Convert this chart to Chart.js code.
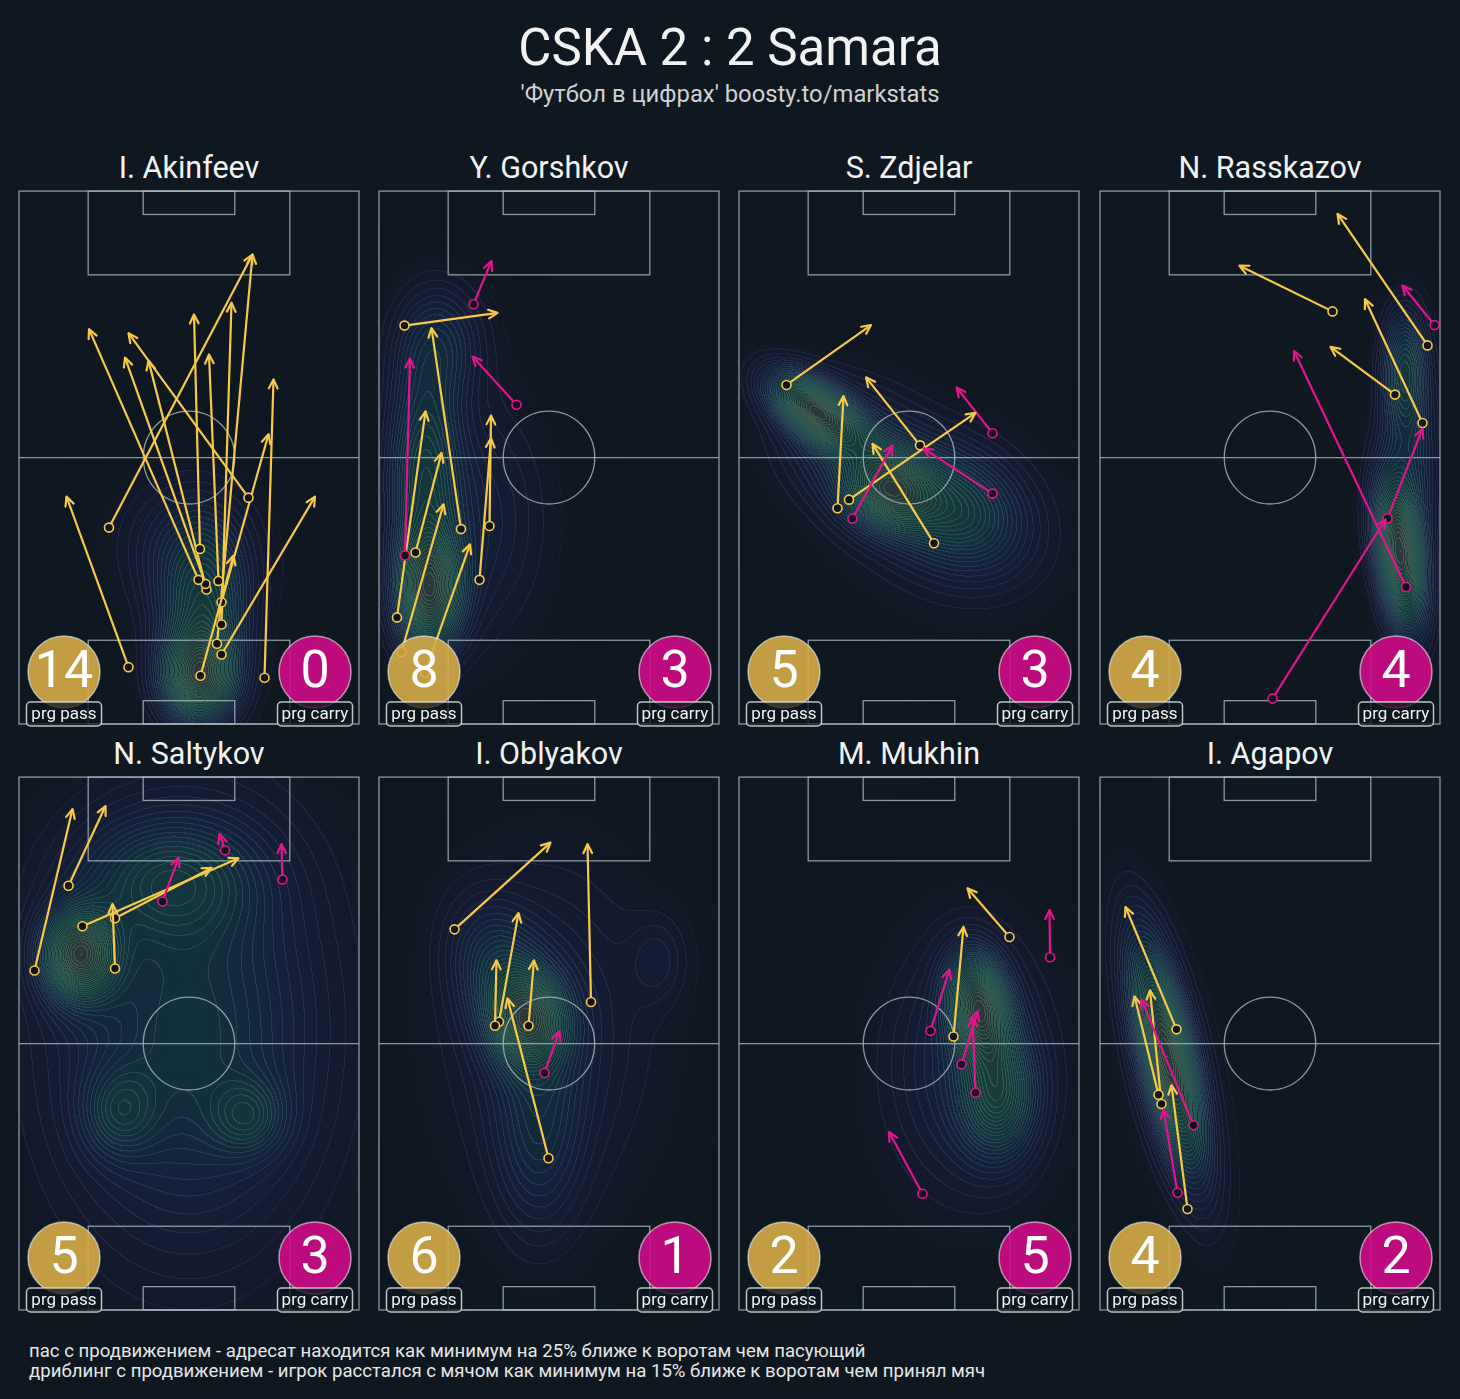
<!DOCTYPE html>
<html>
<head>
<meta charset="utf-8">
<script src="https://cdn.jsdelivr.net/npm/chart.js@4.4.1/dist/chart.umd.min.js"></script>
<style>
  body { margin: 0; background: #0f1820; width: 1460px; height: 1399px; overflow: hidden;
         font-family: Roboto, "Noto Sans", sans-serif; color: #f2f2f2; position: relative; }
  .t { position: absolute; left: 0; width: 1460px; text-align: center; white-space: nowrap; }
  #title { top: 20px; font-size: 51px; line-height: 56px; }
  #sub { top: 80px; font-size: 23.8px; line-height: 28px; color: #d0d0d0; }
  .name { position: absolute; width: 340px; text-align: center; font-size: 30.5px; line-height: 36px; white-space: nowrap; }
  canvas { position: absolute; }
  #foot { position: absolute; left: 29px; top: 1341px; font-size: 18.6px; line-height: 20px; color: #e6e6e6; white-space: nowrap; }
</style>
</head>
<body>
<div class="t" id="title">CSKA 2 : 2 Samara</div>
<div class="t" id="sub">'Футбол в цифрах' boosty.to/markstats</div>
<div id="foot">пас с продвижением - адресат находится как минимум на 25% ближе к воротам чем пасующий<br>дриблинг с продвижением - игрок расстался с мячом как минимум на 15% ближе к воротам чем принял мяч</div>

<script>
// pitch is 68 x 105, attacking upwards; arrows are [x0, y0, x1, y1] in metres
const players = ['I. Akinfeev', 'Y. Gorshkov', 'S. Zdjelar', 'N. Rasskazov',
                 'N. Saltykov', 'I. Oblyakov', 'M. Mukhin', 'I. Agapov'];

const passAkinfeev = [
  [21.9, 11.2, 9.5, 44.8], [18.0, 38.7, 46.7, 92.5], [45.9, 44.6, 21.9, 77.0],
  [49.1, 9.1, 50.9, 67.9], [40.5, 13.7, 59.2, 44.8], [36.3, 9.5, 42.9, 33.2],
  [36.2, 34.5, 35.0, 80.7], [35.9, 28.4, 14.0, 77.8], [37.3, 27.6, 21.2, 72.2],
  [37.5, 26.5, 25.9, 71.6], [39.9, 28.2, 38.0, 72.8], [40.5, 24.0, 49.9, 57.1],
  [40.5, 19.6, 42.5, 83.0], [39.6, 15.8, 46.7, 92.5]
];
const carryAkinfeev = [];

const passGorshkov = [
  [5.1, 78.5, 23.7, 81.0], [16.4, 38.4, 10.5, 78.0], [3.6, 21.0, 9.3, 61.6],
  [7.3, 33.8, 12.5, 53.4], [4.5, 14.2, 12.9, 43.3], [9.2, 10.1, 18.2, 35.4],
  [22.1, 39.0, 22.4, 60.8], [20.1, 28.4, 22.4, 56.3]
];
const carryGorshkov = [
  [5.2, 33.2, 6.2, 72.0], [18.9, 82.7, 22.5, 91.2], [27.5, 62.9, 18.7, 72.4]
];

const passZdjelar = [
  [9.5, 66.8, 26.4, 78.6], [19.7, 42.5, 20.9, 64.6], [22.0, 44.2, 47.3, 61.3],
  [36.2, 54.9, 25.4, 68.3], [39.0, 35.6, 26.7, 55.2]
];
const carryZdjelar = [
  [22.7, 40.5, 30.7, 54.9], [50.7, 57.3, 43.5, 66.3], [50.7, 45.4, 36.9, 54.3]
];

const passRasskazov = [
  [46.5, 81.3, 27.9, 90.3], [65.5, 74.6, 47.5, 100.5], [59.0, 64.9, 46.1, 74.3],
  [64.5, 59.3, 53.0, 83.7]
];
const carryRasskazov = [
  [66.9, 78.6, 60.5, 86.4], [61.2, 27.0, 38.8, 73.5], [34.5, 5.0, 57.1, 40.3],
  [57.5, 40.5, 64.5, 58.2]
];

const passSaltykov = [
  [3.1, 66.9, 10.7, 98.7], [9.9, 83.6, 17.3, 99.3], [12.7, 75.6, 43.9, 89.0],
  [19.2, 67.3, 18.7, 80.0], [19.2, 77.2, 38.5, 87.1]
];
const carrySaltykov = [
  [28.7, 80.5, 31.9, 89.1], [41.2, 90.6, 40.1, 93.8], [52.7, 84.8, 52.5, 91.8]
];

const passOblyakov = [
  [15.1, 75.0, 34.3, 92.1], [42.4, 60.7, 41.7, 91.8], [23.2, 56.0, 23.5, 68.9],
  [24.0, 56.8, 27.9, 78.2], [29.9, 56.0, 31.0, 68.9], [33.9, 29.9, 25.7, 61.4]
];
const carryOblyakov = [
  [33.1, 46.7, 36.1, 54.9]
];

const passMukhin = [
  [54.1, 73.5, 45.7, 83.1], [42.9, 53.9, 44.9, 75.5]
];
const carryMukhin = [
  [62.2, 69.5, 62.1, 78.8], [38.3, 55.0, 42.1, 67.1], [44.5, 48.4, 47.7, 58.8],
  [47.3, 42.8, 46.7, 57.7], [36.7, 22.9, 30.0, 35.1]
];

const passAgapov = [
  [15.3, 55.3, 5.1, 79.4], [11.7, 42.4, 6.9, 61.8], [12.3, 40.6, 10.0, 63.0],
  [17.5, 19.9, 14.3, 44.3]
];
const carryAgapov = [
  [18.7, 36.4, 8.3, 61.2], [15.5, 23.1, 12.7, 39.5]
];

// rough touch-density blobs: [x, y, spreadX, spreadY, angleDeg, weight]
const heatAkinfeev = [[36, 9, 5, 6, 0, 1], [37, 22, 6, 10, 0, 0.6], [34, 35, 9, 9, 0, 0.25]];
const heatGorshkov = [[10, 26, 4.5, 8, 0, 1], [9, 50, 5, 14, 0, 0.55], [12, 75, 6, 8, 0, 0.3], [20, 40, 9, 16, 0, 0.2]];
const heatZdjelar = [[15, 62, 7, 3.5, -35, 1], [30, 46, 6, 5, -20, 0.75], [44, 42, 9, 7, -30, 0.45], [22, 55, 10, 8, -30, 0.3], [40, 42, 15, 11, -30, 0.2]];
const heatRasskazov = [[60, 33, 3.2, 10, 8, 1], [61, 70, 3, 8, 0, 0.5], [62, 50, 4, 12, 0, 0.3]];
const heatSaltykov = [[12, 70, 5, 6, 0, 1], [20, 39, 5, 6, 0, 0.3], [46, 38, 5, 5, 0, 0.3], [30, 85, 12, 8, 0, 0.4], [34, 55, 18, 28, 0, 0.5]];
const heatOblyakov = [[30, 57, 5, 6, 0, 1], [25, 65, 6, 10, 20, 0.6], [56, 69, 4, 6, 0, 0.18], [32, 35, 6, 14, 0, 0.4], [34, 55, 14, 22, 0, 0.3]];
const heatMukhin = [[48, 60, 4, 7, 10, 1], [52, 42, 5, 8, 0, 0.6], [46, 48, 11, 17, 0, 0.3]];
const heatAgapov = [[13.5, 50, 3.5, 15, 13, 1], [14, 48, 6, 20, 13, 0.15]];

const passes = [passAkinfeev, passGorshkov, passZdjelar, passRasskazov, passSaltykov, passOblyakov, passMukhin, passAgapov];
const carries = [carryAkinfeev, carryGorshkov, carryZdjelar, carryRasskazov, carrySaltykov, carryOblyakov, carryMukhin, carryAgapov];
const heats = [heatAkinfeev, heatGorshkov, heatZdjelar, heatRasskazov, heatSaltykov, heatOblyakov, heatMukhin, heatAgapov];

const panelLeft = [19, 379, 739, 1100];
const panelTop = [191, 777];
const PASS = '#f7c948';
const CARRY = '#e2148e';
const LINE = 'rgba(168,186,190,0.8)';

const stops = [
  [0.00, 30, 20, 70, 0],
  [0.06, 45, 30, 110, 0.16],
  [0.22, 35, 60, 130, 0.27],
  [0.42, 25, 100, 120, 0.33],
  [0.65, 35, 125, 105, 0.36],
  [0.85, 60, 120, 100, 0.36],
  [1.00, 85, 105, 100, 0.4]
];
function cmap(t) {
  for (let k = 1; k < stops.length; k++) {
    if (t <= stops[k][0]) {
      const a = stops[k - 1], b = stops[k], f = (t - a[0]) / (b[0] - a[0]);
      return [1, 2, 3, 4].map(n => a[n] + (b[n] - a[n]) * f);
    }
  }
  return stops[stops.length - 1].slice(1);
}

function drawHeat(chart, blobs) {
  const a = chart.chartArea, xs = chart.scales.x, ys = chart.scales.y;
  const W = Math.round(a.right - a.left), H = Math.round(a.bottom - a.top);
  const dens = new Float32Array(W * H);
  const pre = blobs.map(b => {
    const r = b[4] * Math.PI / 180;
    return [b[0], b[1], b[2], b[3], Math.cos(r), Math.sin(r), b[5]];
  });
  let max = 0;
  for (let j = 0; j < H; j++) {
    const my = ys.getValueForPixel(a.top + j + 0.5);
    for (let i = 0; i < W; i++) {
      const mx = xs.getValueForPixel(a.left + i + 0.5);
      let d = 0;
      for (const p of pre) {
        const dx = mx - p[0], dy = my - p[1];
        const u = dx * p[4] + dy * p[5], v = -dx * p[5] + dy * p[4];
        d += p[6] * Math.exp(-0.5 * (u * u / (p[2] * p[2]) + v * v / (p[3] * p[3])));
      }
      dens[j * W + i] = d;
      if (d > max) max = d;
    }
  }
  const off = document.createElement('canvas');
  off.width = W; off.height = H;
  const octx = off.getContext('2d');
  const img = octx.createImageData(W, H);
  const N = 34;
  for (let k = 0; k < W * H; k++) {
    const t = dens[k] / max;
    const c = cmap(t);
    const lvl = Math.floor(t * N);
    const i = k % W, j = (k - i) / W;
    let edge = false;
    if (t > 0.03) {
      if (i + 1 < W && Math.floor(dens[k + 1] / max * N) !== lvl) edge = true;
      if (j + 1 < H && Math.floor(dens[k + W] / max * N) !== lvl) edge = true;
    }
    if (edge) {
      c[0] = Math.min(255, c[0] + 45); c[1] = Math.min(255, c[1] + 50); c[2] = Math.min(255, c[2] + 40);
      c[3] = Math.min(1, c[3] + 0.08);
    }
    img.data[k * 4] = c[0]; img.data[k * 4 + 1] = c[1]; img.data[k * 4 + 2] = c[2];
    img.data[k * 4 + 3] = c[3] * 255;
  }
  octx.putImageData(img, 0, 0);
  chart.ctx.drawImage(off, a.left, a.top);
}

function drawPitch(chart) {
  const ctx = chart.ctx, xs = chart.scales.x, ys = chart.scales.y;
  const px = v => xs.getPixelForValue(v), py = v => ys.getPixelForValue(v);
  const rect = (x0, y0, x1, y1) => ctx.strokeRect(px(x0), py(y1), px(x1) - px(x0), py(y0) - py(y1));
  ctx.save();
  ctx.strokeStyle = LINE;
  ctx.lineWidth = 1.3;
  rect(0, 0, 68, 105);
  ctx.beginPath(); ctx.moveTo(px(0), py(52.5)); ctx.lineTo(px(68), py(52.5)); ctx.stroke();
  ctx.beginPath();
  ctx.ellipse(px(34), py(52.5), px(9.15) - px(0), py(0) - py(9.15), 0, 0, Math.PI * 2);
  ctx.stroke();
  rect(13.84, 0, 54.16, 16.5);
  rect(13.84, 88.5, 54.16, 105);
  rect(24.84, 0, 43.16, 4.6);
  rect(24.84, 100.4, 43.16, 105);
  ctx.restore();
}

function drawBadge(ctx, cx, cy, fill, num, label) {
  ctx.save();
  ctx.beginPath();
  ctx.arc(cx, cy, 36, 0, Math.PI * 2);
  ctx.fillStyle = fill;
  ctx.fill();
  ctx.strokeStyle = 'rgba(255,255,255,0.55)';
  ctx.lineWidth = 1.5;
  ctx.stroke();
  ctx.fillStyle = '#ffffff';
  ctx.font = '52px Roboto';
  ctx.textAlign = 'center';
  ctx.textBaseline = 'middle';
  ctx.fillText(String(num), cx, cy + 2);
  // label box
  const bw = 75, bh = 24, bx = cx - bw / 2, by = cy + 30;
  ctx.beginPath();
  ctx.roundRect(bx, by, bw, bh, 4);
  ctx.fillStyle = 'rgba(14,22,30,0.75)';
  ctx.fill();
  ctx.strokeStyle = 'rgba(225,225,225,0.85)';
  ctx.lineWidth = 1.5;
  ctx.stroke();
  ctx.fillStyle = '#f2f2f2';
  ctx.font = '17px Roboto';
  ctx.fillText(label, cx, by + bh / 2 + 1);
  ctx.restore();
}

function arrowSets(list, color, order) {
  return list.map(a => ({
    data: [{x: a[0], y: a[1]}, {x: a[2], y: a[3]}],
    showLine: true,
    borderColor: color,
    borderWidth: 2.2,
    pointRadius: [4.5, 0],
    pointBorderWidth: 1.6,
    pointBorderColor: color,
    pointBackgroundColor: '#0d1318',
    clip: false,
    order: order
  }));
}

function makePanel(i) {
  const col = i % 4, row = Math.floor(i / 4);
  const L = panelLeft[col], T = panelTop[row];

  const name = document.createElement('div');
  name.className = 'name';
  name.textContent = players[i];
  name.style.left = L + 'px';
  name.style.top = (T - 41) + 'px';
  document.body.appendChild(name);

  const canvas = document.createElement('canvas');
  canvas.width = 360; canvas.height = 549;
  canvas.style.left = (L - 10) + 'px';
  canvas.style.top = (T - 6) + 'px';
  document.body.appendChild(canvas);

  const panelPlugin = {
    id: 'panel' + i,
    beforeDatasetsDraw(chart) {
      drawHeat(chart, heats[i]);
      drawPitch(chart);
    },
    afterDatasetsDraw(chart) {
      const ctx = chart.ctx;
      chart.data.datasets.forEach((ds, k) => {
        const meta = chart.getDatasetMeta(k);
        const p0 = meta.data[0], p1 = meta.data[1];
        const ang = Math.atan2(p1.y - p0.y, p1.x - p0.x);
        ctx.save();
        ctx.strokeStyle = ds.borderColor;
        ctx.lineWidth = 2.2;
        ctx.lineCap = 'round';
        ctx.lineJoin = 'round';
        ctx.beginPath();
        ctx.moveTo(p1.x - 10 * Math.cos(ang - 0.45), p1.y - 10 * Math.sin(ang - 0.45));
        ctx.lineTo(p1.x, p1.y);
        ctx.lineTo(p1.x - 10 * Math.cos(ang + 0.45), p1.y - 10 * Math.sin(ang + 0.45));
        ctx.stroke();
        ctx.restore();
      });
    },
    afterDraw(chart) {
      const a = chart.chartArea;
      drawBadge(chart.ctx, a.left + 45, a.bottom - 52, 'rgba(214,172,72,0.9)', passes[i].length, 'prg pass');
      drawBadge(chart.ctx, a.right - 44, a.bottom - 52, 'rgba(206,10,134,0.9)', carries[i].length, 'prg carry');
    }
  };

  new Chart(canvas, {
    type: 'scatter',
    data: {
      datasets: arrowSets(passes[i], PASS, 2).concat(arrowSets(carries[i], CARRY, 1))
    },
    options: {
      responsive: false,
      animation: false,
      events: [],
      layout: { padding: { left: 10, right: 10, top: 6, bottom: 10 } },
      scales: {
        x: { type: 'linear', min: 0, max: 68, display: false },
        y: { type: 'linear', min: 0, max: 105, display: false }
      },
      plugins: { legend: { display: false }, tooltip: { enabled: false } }
    },
    plugins: [panelPlugin]
  });
}

for (let i = 0; i < players.length; i++) makePanel(i);
</script>
</body>
</html>
